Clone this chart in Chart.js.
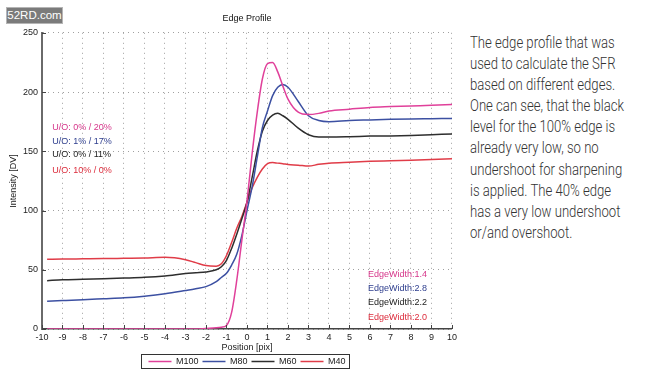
<!DOCTYPE html>
<html>
<head>
<meta charset="utf-8">
<script src="https://cdn.jsdelivr.net/npm/chart.js@4"></script>
<style>
  body { margin: 0; background: #fff; width: 650px; height: 376px; overflow: hidden; position: relative; font-family: "Liberation Sans", Arial, sans-serif; }
  #wrap { position: absolute; left: 0; top: 0; width: 460px; height: 376px; }
  #mark { position: absolute; left: 6px; top: 7px; width: 55px; height: 15px; background: #7b7b7b; color: #fff; font: 11.5px "Liberation Sans", Arial, sans-serif; line-height: 15px; text-align: center; border: 1px solid #b5b5b5; }
  #note { position: absolute; left: 470px; top: 32px; font-family: Roboto, sans-serif; font-weight: 300; font-size: 16px; line-height: 21.1px; color: #333; transform: scaleX(0.82); transform-origin: 0 0; white-space: nowrap; }
</style>
</head>
<body>
<div id="wrap"><canvas id="edgeChart" width="460" height="376"></canvas></div>
<div id="mark">52RD.com</div>
<div id="note">The edge profile that was<br>used to calculate the SFR<br>based on different edges.<br>One can see, that the black<br>level for the 100% edge is<br>already very low, so no<br>undershoot for sharpening<br>is applied. The 40% edge<br>has a very low undershoot<br>or/and overshoot.</div>
<script>
// values
const positions = [-9.75, -9, -8, -7, -6, -5, -4, -3, -2.5, -2, -1.5, -1.25, -1, -0.75, -0.5, -0.25, 0, 0.25, 0.5, 0.75, 1, 1.25, 1.5, 1.75, 2, 2.5, 3, 3.5, 4, 5, 6, 7, 8, 9, 10];
const m100 = [0, 0, 0, 0, 0, 0, 0, 0, 0, 0.5, 1, 1.5, 3, 14, 41, 75, 108, 148, 183, 211, 224, 225, 217, 205, 194, 183, 181, 182, 184, 185.5, 187, 187.7, 188.3, 188.8, 189.5];
const m80 = [23.5, 24, 24.7, 25.5, 26.3, 27.7, 29.7, 32.5, 34, 35.8, 40, 43.5, 47, 54, 63, 79, 100, 120, 145, 170, 184, 197, 204, 206.4, 204, 192, 180, 176, 175, 176, 176.5, 177, 177.3, 177.5, 177.7];
const m60 = [40.8, 41.5, 42, 42.5, 43, 43.6, 44.8, 46.8, 47.5, 48.2, 50, 52.5, 58, 68, 80, 93, 107, 128, 150, 167, 176, 180.5, 182, 180, 177, 169.5, 164, 162, 162, 162.3, 162.8, 163, 163.4, 164, 164.6];
const m40 = [58.8, 59, 59.2, 59.4, 59.7, 60, 60.5, 58.5, 56, 53.5, 53, 55, 62, 73, 85, 95, 107, 119, 128, 135, 139.5, 140.5, 140, 139.5, 138.8, 138.3, 137.5, 139, 140, 140.8, 141.5, 142, 142.5, 143, 143.7];
const seriesNames = ['M100', 'M80', 'M60', 'M40'];
const uoLabels = ['U/O: 0% / 20%', 'U/O: 1% / 17%', 'U/O: 0% / 11%', 'U/O: 10% / 0%'];
const edgeLabels = ['EdgeWidth:1.4', 'EdgeWidth:2.8', 'EdgeWidth:2.2', 'EdgeWidth:2.0'];

const seriesValues = [m100, m80, m60, m40];
const lineColors = ['#e0409a', '#3c50a2', '#2e2e2e', '#e03c48'];
const textColors = ['#d6368a', '#2e3e8e', '#222222', '#dc2c3c'];

Chart.defaults.font.family = '"Liberation Sans", Arial, sans-serif';

// inward tick marks, matlab style
const tickMarks = {
  id: 'tickMarks',
  afterDraw(chart) {
    const { ctx, scales: { x, y }, chartArea } = chart;
    ctx.save();
    ctx.strokeStyle = '#444';
    ctx.lineWidth = 1;
    ctx.beginPath();
    x.ticks.forEach(t => {
      const px = Math.round(x.getPixelForValue(t.value)) + 0.5;
      ctx.moveTo(px, chartArea.bottom);
      ctx.lineTo(px, chartArea.bottom - 4);
    });
    y.ticks.forEach(t => {
      const py = Math.round(y.getPixelForValue(t.value)) + 0.5;
      ctx.moveTo(chartArea.left, py);
      ctx.lineTo(chartArea.left + 4, py);
    });
    ctx.stroke();
    ctx.restore();
  }
};

// U/O and EdgeWidth notes, placed in data space
const notes = {
  id: 'notes',
  afterDatasetsDraw(chart, args, opts) {
    const { ctx, scales: { x, y } } = chart;
    ctx.save();
    ctx.font = '9px "Liberation Sans", Arial, sans-serif';
    ctx.textAlign = 'left';
    ctx.textBaseline = 'middle';
    uoLabels.forEach((txt, i) => {
      ctx.fillStyle = textColors[i];
      ctx.fillText(txt, x.getPixelForValue(opts.uoX), y.getPixelForValue(opts.uoY[i]));
    });
    edgeLabels.forEach((txt, i) => {
      ctx.fillStyle = textColors[i];
      ctx.fillText(txt, x.getPixelForValue(opts.edgeX), y.getPixelForValue(opts.edgeY[i]));
    });
    ctx.restore();
  }
};

// box round the legend
const legendBox = {
  id: 'legendBox',
  afterDraw(chart) {
    const hb = chart.legend.legendHitBoxes;
    if (!hb || !hb.length) return;
    const l = Math.min(...hb.map(h => h.left));
    const r = Math.max(...hb.map(h => h.left + h.width));
    const t = hb[0].top, b = hb[0].top + hb[0].height;
    const ctx = chart.ctx;
    ctx.save();
    ctx.strokeStyle = '#333';
    ctx.lineWidth = 1;
    ctx.strokeRect(Math.round(l) - 6.5, Math.round(t) - 2.5, Math.round(r - l) + 11, Math.round(b - t) + 5);
    ctx.restore();
  }
};

const ctx = document.getElementById('edgeChart').getContext('2d');
new Chart(ctx, {
  type: 'line',
  data: {
    datasets: seriesNames.map((name, i) => ({
      label: name,
      data: positions.map((p, j) => ({ x: p, y: seriesValues[i][j] })),
      borderColor: lineColors[i],
      backgroundColor: lineColors[i],
      borderWidth: 1.5,
      pointRadius: 0,
      fill: false,
      cubicInterpolationMode: 'monotone'
    }))
  },
  options: {
    responsive: false,
    animation: false,
    devicePixelRatio: 1,
    layout: { padding: { left: 0, right: 7, top: 0, bottom: 0 } },
    scales: {
      x: {
        type: 'linear',
        min: -10,
        max: 10,
        ticks: { stepSize: 1, color: '#222', font: { size: 9 }, padding: 3, maxRotation: 0, autoSkip: false },
        grid: { color: '#a0a0a0', lineWidth: 1, drawTicks: false },
        border: { display: true, color: '#444', width: 1.5, dash: [1, 4] },
        title: { display: true, text: 'Position [pix]', color: '#222', font: { size: 9 }, padding: 0 },
        afterFit: s => { s.height = 24; }
      },
      y: {
        min: 0,
        max: 250,
        ticks: { stepSize: 50, color: '#222', font: { size: 9 }, padding: 4 },
        grid: { color: '#a0a0a0', lineWidth: 1, drawTicks: false },
        border: { display: true, color: '#6a6a6a', width: 2, dash: [1, 4] },
        title: { display: true, text: 'Intensity [DV]', color: '#222', font: { size: 9 }, padding: { top: 8, bottom: 0 } },
        afterFit: s => { s.width = 42; }
      }
    },
    plugins: {
      title: {
        display: true,
        text: 'Edge Profile',
        fullSize: false,
        color: '#111',
        font: { size: 9, weight: 'normal' },
        padding: { top: 13, bottom: 9 }
      },
      legend: {
        position: 'bottom',
        fullSize: false,
        labels: {
          usePointStyle: true,
          pointStyle: 'line',
          pointStyleWidth: 23,
          boxHeight: 9,
          color: '#222',
          font: { size: 9 },
          padding: 4
        }
      },
      tooltip: { enabled: false },
      notes: {
        uoX: -9.5,
        uoY: [170, 158, 147, 134],
        edgeX: 5.9,
        edgeY: [46, 34, 22, 10]
      }
    }
  },
  plugins: [tickMarks, notes, legendBox]
});
</script>
</body>
</html>
